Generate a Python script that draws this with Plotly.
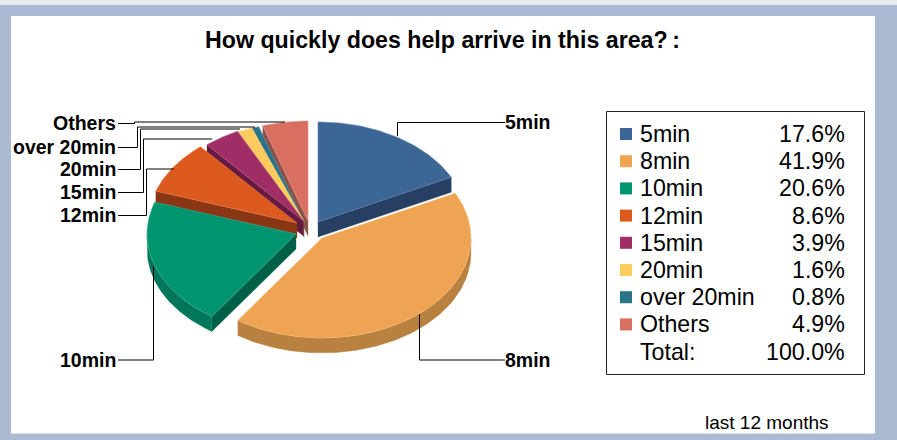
import numpy as np
import plotly.graph_objects as go

categories = ["5min", "8min", "10min", "12min", "15min", "20min", "over 20min", "Others"]
values = [17.6, 41.9, 20.6, 8.6, 3.9, 1.6, 0.8, 4.9]
total_label = "Total:"
total_value = 100.0
title_text = "How quickly does help arrive in this area?\u2009:"
note_text = "last 12 months"

top_colors = ["#3b6696", "#efa453", "#00956f", "#dd5a1f", "#a02d66", "#fecb5f", "#2a7488", "#d96f61"]
rim_colors = ["#263f63", "#b98140", "#00765a", "#8a3614", "#651a40", "#a08a40", "#1d5260", "#8f524a"]
cut_colors = ["#263f63", "#b98140", "#005f47", "#8a3614", "#651a40", "#a08a40", "#1d5260", "#8f524a"]
edge_colors = ["#5c80a8", "#f3b87a", "#3fae90", "#e57c4c", "#b55a86", "#fed98a", "#5a93a3", "#e2917f"]

# layout constants, in page pixels
RX, RY, DEPTH = 149.0, 100.0, 15.0
apex_x = [318, 322, 296, 297, 303.5, 304, 304, 308]
apex_y = [222, 238, 234, 223, 221, 221.5, 222, 221]
draw_order = [7, 6, 5, 4, 3, 0, 2, 1]
FRAME = "#a9bad2"

fig = go.Figure()


def poly(xs, ys, fill, line=None):
    fig.add_trace(go.Scatter(
        x=list(xs), y=list(ys), mode="lines", fill="toself", fillcolor=fill,
        line=dict(color=line or fill, width=0.6 if line else 0.3),
        hoverinfo="skip", showlegend=False))


def rim_pt(i, deg):
    a = np.radians(deg)
    return apex_x[i] + RX * np.sin(a), apex_y[i] - RY * np.cos(a)


bounds = np.concatenate([[0], np.cumsum(values)]) * 360.0 / sum(values)
for i in draw_order:
    a0, a1 = bounds[i], bounds[i + 1]
    cx, cy = apex_x[i], apex_y[i]
    # cut faces, seen only when they turn towards the viewer
    if 180 < a0 < 360:
        px, py = rim_pt(i, a0)
        poly([cx, px, px, cx, cx], [cy, py, py + DEPTH, cy + DEPTH, cy], cut_colors[i])
    if 0 < a1 < 180:
        px, py = rim_pt(i, a1)
        poly([cx, px, px, cx, cx], [cy, py, py + DEPTH, cy + DEPTH, cy], cut_colors[i])
    # outer rim, seen on the near half of the ellipse
    lo, hi = max(a0, 90), min(a1, 270)
    if hi > lo:
        t = np.linspace(lo, hi, 80)
        xs, ys = rim_pt(i, t)
        poly(np.r_[xs, xs[::-1], xs[0]], np.r_[ys, ys[::-1] + DEPTH, ys[0]], rim_colors[i])
    # top face
    t = np.linspace(a0, a1, max(int(a1 - a0) + 2, 4))
    xs, ys = rim_pt(i, t)
    poly(np.r_[cx, xs, cx], np.r_[cy, ys, cy], top_colors[i], edge_colors[i])

# leader lines
leaders = [
    ([397.5, 397.5, 505], [136, 122.5, 122.5]),
    ([419.5, 419.5, 505], [314, 360, 360]),
    ([118, 153.5, 153.5], [360, 360, 266]),
    ([118, 146.5, 146.5, 174], [215.5, 215.5, 169, 169]),
    ([118, 143.5, 143.5, 212], [192.5, 192.5, 139, 139]),
    ([118, 140.5, 140.5, 240], [169.5, 169.5, 129, 129]),
    ([118, 137.5, 137.5, 255], [147.5, 147.5, 127, 127]),
    ([118, 134.5, 134.5, 285], [123.5, 123.5, 122, 122]),
]
for lx, ly in leaders:
    fig.add_trace(go.Scatter(x=lx, y=ly, mode="lines", line=dict(color="#000000", width=1),
                             hoverinfo="skip", showlegend=False))

FONT = "Liberation Sans, Arial, sans-serif"
annotations = []


def text(x, y, s, size, anchor="left", bold=False):
    annotations.append(dict(
        x=x, y=y, xref="x", yref="y", text=f"<b>{s}</b>" if bold else s, showarrow=False,
        xanchor=anchor, yanchor="middle", font=dict(family=FONT, size=size, color="#000000"),
        borderpad=0, borderwidth=0))


text(442.5, 40, title_text, 23.2, "center", True)
label_y = [122, 360, 360, 215, 192, 169, 147, 123]
label_x = [505, 505, 116, 116, 116, 116, 116, 116]
for name, lx, ly in zip(categories, label_x, label_y):
    text(lx, ly, name, 19.5, "left" if lx > 300 else "right", True)

rows = [134 + 27.2 * k for k in range(len(categories) + 1)]
fig.add_trace(go.Scatter(
    x=[626] * len(categories), y=rows[:-1], mode="markers",
    marker=dict(symbol="square", size=12, color=top_colors, line=dict(width=0)),
    hoverinfo="skip", showlegend=False))
for name, v, y in zip(categories, values, rows):
    text(640, y, name, 23.2)
    text(845, y, f"{v:.1f}%", 23.2, "right")
text(640, rows[-1], total_label, 23.2)
text(845, rows[-1], f"{total_value:.1f}%", 23.2, "right")
text(829, 422, note_text, 19, "right")

shapes = [
    dict(type="rect", x0=0, x1=897, y0=0, y1=5, fillcolor="#e8ecf2", line=dict(width=0), layer="below"),
    dict(type="rect", x0=11, x1=875, y0=16, y1=433.5, fillcolor="#ffffff", line=dict(width=0), layer="below"),
    dict(type="rect", x0=606.5, x1=864.5, y0=111.5, y1=374.5, fillcolor="rgba(0,0,0,0)",
         line=dict(color="#222222", width=1), layer="above"),
]

fig.update_layout(
    width=897, height=440, margin=dict(l=0, r=0, t=0, b=0, pad=0),
    paper_bgcolor=FRAME, plot_bgcolor="rgba(0,0,0,0)",
    xaxis=dict(range=[0, 897], visible=False, fixedrange=True),
    yaxis=dict(range=[440, 0], visible=False, fixedrange=True),
    annotations=annotations, shapes=shapes, showlegend=False,
)
fig.write_html("out.html", post_script="document.body.style.margin='0';document.body.style.overflow='hidden';",
               config=dict(displayModeBar=False))
